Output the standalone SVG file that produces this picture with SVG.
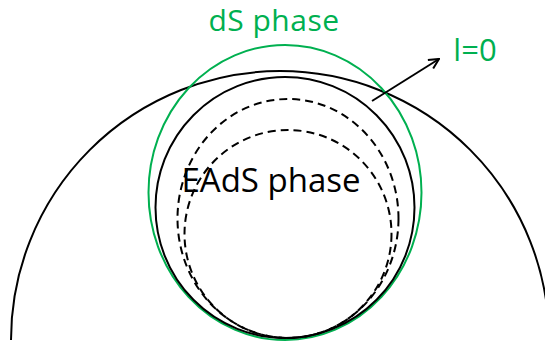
<svg xmlns="http://www.w3.org/2000/svg" width="545" height="350" viewBox="0 0 545 350">
<defs>
<style>
.bk{fill:none;stroke:#000;stroke-width:2}
.gr{fill:none;stroke:#00B050;stroke-width:2}
.ds{fill:none;stroke:#000;stroke-width:2;stroke-dasharray:8 5}
.t{font-family:"Open Sans","Noto Sans",sans-serif}
</style>
<marker id="ah" viewBox="0 0 12 12" refX="11" refY="6" markerWidth="12" markerHeight="12" markerUnits="userSpaceOnUse" orient="auto">
<path d="M1,1 L11,6 L1,11" fill="none" stroke="#000" stroke-width="2"/>
</marker>
</defs>
<rect width="545" height="350" fill="#fff"/>
<g id="outer-arc"><path class="bk" d="M11,340 A269,269 0 0 1 549,340"/></g>
<g id="ds-boundary"><ellipse class="gr" cx="285" cy="192.5" rx="136.5" ry="147.5"/></g>
<g id="eads-boundary"><ellipse class="bk" cx="285" cy="207.5" rx="129.5" ry="130.5"/></g>
<g id="dashed-outer"><ellipse class="ds" cx="288" cy="218.5" rx="110.5" ry="119.5"/></g>
<g id="dashed-inner"><ellipse class="ds" cx="288" cy="234" rx="103.5" ry="104"/></g>
<g id="label-ds"><text class="t" x="274" y="31" font-size="30" fill="#00B050" text-anchor="middle" letter-spacing="0.5">dS phase</text></g>
<g id="label-eads"><text class="t" x="271" y="192" font-size="33" fill="#000" text-anchor="middle">EAdS phase</text></g>
<g id="label-l0"><text class="t" x="475" y="61" font-size="31" fill="#00B050" text-anchor="middle">l=0</text></g>
<g id="connectors"><line x1="372" y1="101" x2="439" y2="59" stroke="#000" stroke-width="2" marker-end="url(#ah)"/></g>
</svg>
